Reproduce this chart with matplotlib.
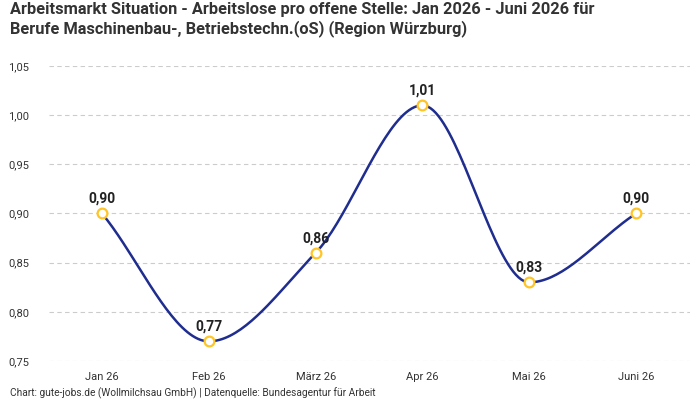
import numpy as np
import matplotlib
matplotlib.use("Agg")
import matplotlib.pyplot as plt

categories = ["Jan 26", "Feb 26", "März 26", "Apr 26", "Mai 26", "Juni 26"]
values = [0.90, 0.77, 0.86, 1.01, 0.83, 0.90]
yticks = [0.75, 0.80, 0.85, 0.90, 0.95, 1.00, 1.05]

title = ("Arbeitsmarkt Situation - Arbeitslose pro offene Stelle: Jan 2026 - Juni 2026 für\n"
         "Berufe Maschinenbau-, Betriebstechn.(oS) (Region Würzburg)")
footer = "Chart: gute-jobs.de (Wollmilchsau GmbH) | Datenquelle: Bundesagentur für Arbeit"

plt.rcParams['font.family'] = ['Roboto', 'DejaVu Sans']


def monotone_cubic(x, y, n=40):
    x = np.asarray(x, float)
    y = np.asarray(y, float)
    h = np.diff(x)
    d = np.diff(y) / h
    m = np.zeros_like(y)
    m[0] = d[0]
    m[-1] = d[-1]
    for i in range(1, len(y) - 1):
        if d[i - 1] * d[i] <= 0:
            m[i] = 0
        else:
            w1 = 2 * h[i] + h[i - 1]
            w2 = h[i] + 2 * h[i - 1]
            m[i] = (w1 + w2) / (w1 / d[i - 1] + w2 / d[i])
    xs, ys = [], []
    for i in range(len(x) - 1):
        t = np.linspace(0, 1, n, endpoint=(i == len(x) - 2))
        h00 = 2 * t**3 - 3 * t**2 + 1
        h10 = t**3 - 2 * t**2 + t
        h01 = -2 * t**3 + 3 * t**2
        h11 = t**3 - t**2
        xs.append(x[i] + t * h[i])
        ys.append(h00 * y[i] + h10 * h[i] * m[i] + h01 * y[i + 1] + h11 * h[i] * m[i + 1])
    return np.concatenate(xs), np.concatenate(ys)


fig = plt.figure(figsize=(7, 4), dpi=100)
ax = fig.add_axes([0.0694, 0.0975, 0.9156, 0.7375])

x = np.arange(len(categories))
sx, sy = monotone_cubic(x, values)
ax.plot(sx, sy, color="#1f2d8f", lw=1.8, zorder=2)
ax.plot(x, values, ls="none", marker="o", ms=7, mfc="white", mec="#ffc526", mew=1.6, zorder=3)

for xi, v in zip(x, values):
    ax.annotate(f"{v:.2f}".replace(".", ","), (xi, v), xytext=(0, 5.5), textcoords="offset points",
                ha="center", va="bottom", fontsize=10, fontweight="bold", color="#222222")

ax.set_xlim(-0.5, len(categories) - 0.5)
ax.set_ylim(0.75, 1.05)
ax.set_xticks(x)
ax.set_xticklabels(categories)
ax.set_yticks(yticks)
ax.set_yticklabels([f"{t:.2f}".replace(".", ",") for t in yticks])
ax.tick_params(axis="both", length=0, labelsize=8, colors="#333333")
ax.tick_params(axis="x", pad=8)
ax.tick_params(axis="y", pad=14)
ax.grid(axis="y", color="#cccccc", ls=(0, (4, 3)), lw=0.8)
for s in ax.spines.values():
    s.set_visible(False)

fig.text(0.014, 0.995, title, ha="left", va="top", fontsize=11.8, fontweight="bold",
         color="#333333", linespacing=1.25)
fig.text(0.014, 0.0175, footer, ha="left", va="center", fontsize=7.3, color="#333333")

fig.savefig("out.png", dpi=100)
